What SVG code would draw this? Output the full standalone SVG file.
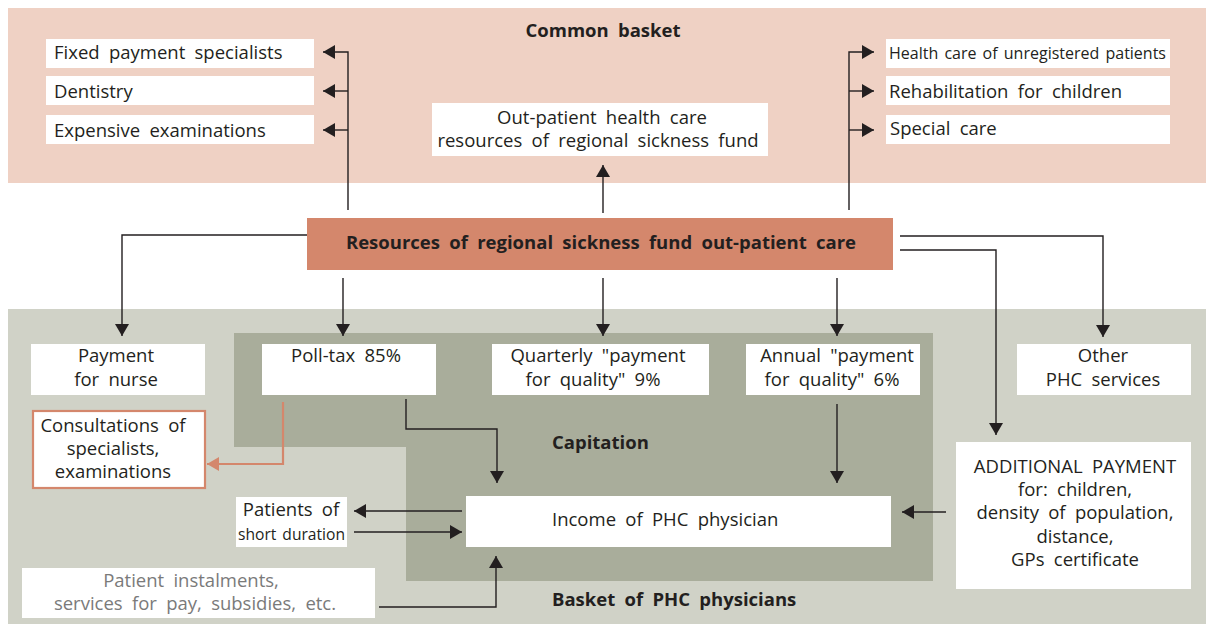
<svg xmlns="http://www.w3.org/2000/svg" width="1206" height="624" viewBox="0 0 1206 624">
<style>
text{font-family:"Open Sans","Liberation Sans",sans-serif;font-size:18.5px;fill:#231f20;word-spacing:4.5px}
.b{font-weight:bold}
.c{text-anchor:middle}
.g{fill:#7a7a7a}
.n{font-size:16px;word-spacing:2px}
.box{fill:#fff}
.ln{fill:none;stroke:#231f20;stroke-width:1.4}
.or{fill:none;stroke:#d4876c;stroke-width:2.2}
</style>
<defs>
<marker id="ah" markerUnits="userSpaceOnUse" markerWidth="14" markerHeight="14" refX="12" refY="7" orient="auto"><path d="M0,0 L12,7 L0,14 Z" fill="#231f20"/></marker>
<marker id="ao" markerUnits="userSpaceOnUse" markerWidth="14" markerHeight="14" refX="12" refY="7" orient="auto"><path d="M0,0 L12,7 L0,14 Z" fill="#d4876c"/></marker>
</defs>
<g id="backgrounds">
<rect x="8" y="8" width="1198" height="175" fill="#efd1c4"/>
<rect x="8" y="309" width="1198" height="315" fill="#d0d2c7"/>
<path d="M234,333 H933 V581 H406 V447 H234 Z" fill="#a9ad9b"/>
<text class="b c" x="603" y="37">Common basket</text>
<text class="b" x="552" y="449">Capitation</text>
<text class="b" x="552" y="606">Basket of PHC physicians</text>
</g>
<g id="fixed"><rect class="box" x="46" y="39" width="268" height="29"/><text x="54" y="59">Fixed payment specialists</text></g>
<g id="dentistry"><rect class="box" x="46" y="76" width="268" height="29"/><text x="54" y="98">Dentistry</text></g>
<g id="expensive"><rect class="box" x="46" y="115" width="268" height="29"/><text x="54" y="137">Expensive examinations</text></g>
<g id="unregistered"><rect class="box" x="886" y="39" width="284" height="29"/><text class="n" x="889" y="59" textLength="277" lengthAdjust="spacingAndGlyphs">Health care of unregistered patients</text></g>
<g id="rehab"><rect class="box" x="886" y="76" width="284" height="29"/><text x="889" y="98">Rehabilitation for children</text></g>
<g id="special"><rect class="box" x="886" y="115" width="284" height="29"/><text x="890" y="135">Special care</text></g>
<g id="outpatient"><rect class="box" x="432" y="103" width="336" height="53"/><text class="c" x="602" y="124">Out-patient health care</text><text class="c" x="598" y="147">resources of regional sickness fund</text></g>
<g id="resources"><rect x="307" y="218" width="586" height="52" fill="#d4876c"/><text class="b c" x="601" y="249">Resources of regional sickness fund out-patient care</text></g>
<g id="nurse"><rect class="box" x="31" y="344" width="174" height="51"/><text class="c" x="116" y="362">Payment</text><text class="c" x="116" y="386">for nurse</text></g>
<g id="polltax"><rect class="box" x="262" y="344" width="174" height="51"/><text class="c" x="346" y="362">Poll-tax 85%</text></g>
<g id="quarterly"><rect class="box" x="492" y="344" width="217" height="51"/><text class="c" x="598" y="362">Quarterly "payment</text><text class="c" x="593" y="386">for quality" 9%</text></g>
<g id="annual"><rect class="box" x="746" y="344" width="174" height="51"/><text class="c" x="837" y="362">Annual "payment</text><text class="c" x="832" y="386">for quality" 6%</text></g>
<g id="other"><rect class="box" x="1017" y="344" width="174" height="51"/><text class="c" x="1103" y="362">Other</text><text class="c" x="1103" y="386">PHC services</text></g>
<g id="consult"><rect x="33" y="411" width="172" height="77" fill="#fff" stroke="#d4876c" stroke-width="2.2"/><text class="c" x="113" y="432">Consultations of</text><text class="c" x="113" y="455">specialists,</text><text class="c" x="113" y="478">examinations</text></g>
<g id="additional"><rect class="box" x="956" y="442" width="235" height="147"/><text class="c" x="1075" y="473">ADDITIONAL PAYMENT</text><text class="c" x="1075" y="496">for: children,</text><text class="c" x="1075" y="519">density of population,</text><text class="c" x="1075" y="543">distance,</text><text class="c" x="1075" y="566">GPs certificate</text></g>
<g id="income"><rect class="box" x="466" y="496" width="425" height="51"/><text x="552" y="526">Income of PHC physician</text></g>
<g id="shortdur"><rect class="box" x="236" y="497" width="111" height="50"/><text class="c" x="291" y="516">Patients of</text><text class="n" x="238" y="540" textLength="107" lengthAdjust="spacingAndGlyphs">short duration</text></g>
<g id="instal"><rect class="box" x="22" y="568" width="353" height="50"/><text class="c g" x="191" y="587">Patient instalments,</text><text class="c g" x="195" y="610">services for pay, subsidies, etc.</text></g>
<g id="connectors">
<path class="ln" d="M348,210 V52 H323" marker-end="url(#ah)"/>
<path class="ln" d="M348,91 H323" marker-end="url(#ah)"/>
<path class="ln" d="M348,130 H323" marker-end="url(#ah)"/>
<path class="ln" d="M849,210 V52 H874" marker-end="url(#ah)"/>
<path class="ln" d="M849,91 H874" marker-end="url(#ah)"/>
<path class="ln" d="M849,130 H874" marker-end="url(#ah)"/>
<path class="ln" d="M603,213 V165" marker-end="url(#ah)"/>
<path class="ln" d="M307,235 H122 V336" marker-end="url(#ah)"/>
<path class="ln" d="M343,278 V336" marker-end="url(#ah)"/>
<path class="ln" d="M603,278 V336" marker-end="url(#ah)"/>
<path class="ln" d="M837,278 V336" marker-end="url(#ah)"/>
<path class="ln" d="M900,236 H1103 V337" marker-end="url(#ah)"/>
<path class="ln" d="M900,250 H996 V435" marker-end="url(#ah)"/>
<path class="ln" d="M406,399 V429 H497 V483" marker-end="url(#ah)"/>
<path class="ln" d="M837,404 V483" marker-end="url(#ah)"/>
<path class="or" d="M283,402 V464 H207" marker-end="url(#ao)"/>
<path class="ln" d="M946,512 H902" marker-end="url(#ah)"/>
<path class="ln" d="M462,511 H354" marker-end="url(#ah)"/>
<path class="ln" d="M354,532 H462" marker-end="url(#ah)"/>
<path class="ln" d="M379,607 H496 V556" marker-end="url(#ah)"/>
</g>
</svg>
